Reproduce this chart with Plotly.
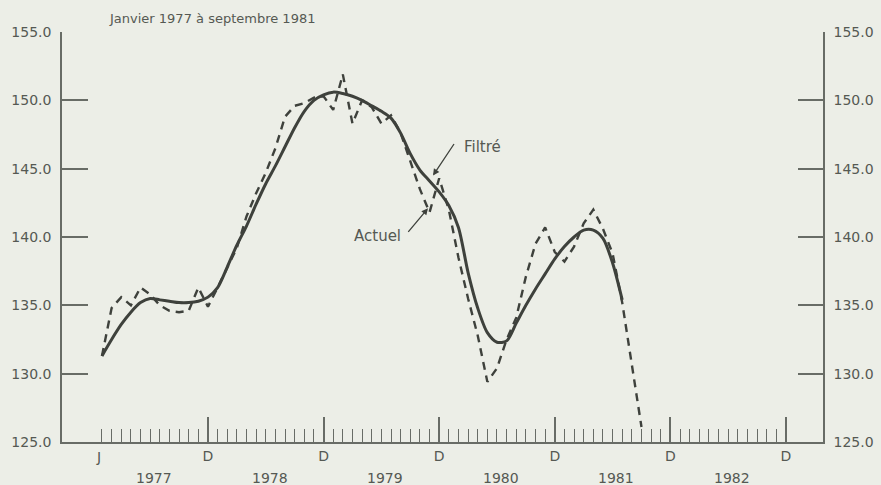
import plotly.graph_objects as go
import pandas as pd

# ---- data (monthly, starting January 1977) ----
start_month = "1977-01"
actuel = [
    131.3, 134.8, 135.6, 135.0, 136.3, 135.8, 135.0, 134.6, 134.5, 134.6, 136.3, 134.9,   # 1977
    136.3, 137.8, 139.2, 141.5, 143.2, 144.7, 146.5, 148.8, 149.6, 149.8, 150.2, 150.3,   # 1978
    149.3, 151.9, 148.3, 150.0, 149.5, 148.3, 148.9, 147.6, 145.5, 143.5, 141.8, 144.3,   # 1979
    142.0, 138.5, 135.5, 132.8, 129.4, 130.4, 132.5, 134.1, 137.1, 139.5, 140.7, 138.9,   # 1980
    138.2, 139.3, 141.0, 142.0, 140.6, 138.8, 135.2, 130.6, 126.1,                        # 1981 (jan-sep)
]
filtre = [
    131.3, 132.5, 133.6, 134.5, 135.2, 135.5, 135.4, 135.3, 135.2, 135.2, 135.3, 135.6,   # 1977
    136.3, 137.8, 139.4, 140.8, 142.4, 143.9, 145.2, 146.6, 148.0, 149.2, 150.0, 150.4,   # 1978
    150.6, 150.5, 150.3, 150.0, 149.6, 149.2, 148.7, 147.6, 146.1, 144.9, 144.1, 143.3,   # 1979
    142.3, 140.7, 137.4, 134.8, 133.0, 132.3, 132.4, 133.7, 135.0, 136.2, 137.3, 138.4,   # 1980
    139.3, 140.0, 140.5, 140.5, 139.9, 138.1, 135.4,                                      # 1981 (jan-jul)
]
y_ticks = [125, 130, 135, 140, 145, 150, 155]
dec_labels = ["D", "D", "D", "D", "D", "D"]
year_labels = ["1977", "1978", "1979", "1980", "1981", "1982"]
title_text = "Janvier 1977 à septembre 1981"

# month index from January 1977
periods = pd.period_range(start_month, periods=len(actuel), freq="M")
base = pd.Period(start_month, freq="M")
x_act = [(p - base).n for p in periods]
x_fil = x_act[:len(filtre)]

# ---- styles ----
BG = "#eceee7"
INK = "#3e413c"
AXIS = "#686c66"
TXT = "#555953"
FONT = "DejaVu Sans, Liberation Sans, Arial, sans-serif"

fig = go.Figure()
# "Actuel" drawn against the right-hand scale (identical range to the left one)
fig.add_trace(go.Scatter(
    x=x_act, y=actuel, mode="lines", name="Actuel", yaxis="y2",
    line=dict(color=INK, width=2.4, dash="8px,6px"),
    hoverinfo="skip", showlegend=False))
fig.add_trace(go.Scatter(
    x=x_fil, y=filtre, mode="lines", name="Filtré",
    line=dict(color=INK, width=3, shape="spline", smoothing=0.8),
    hoverinfo="skip", showlegend=False))

n_months = 72  # 1977..1982
dec_positions = [11 + 12 * k for k in range(6)]
year_centers = [5.4 + 12 * k for k in range(6)]

annotations = [
    dict(x=0.5, y=1, xref="x", yref="paper", text=title_text, showarrow=False,
         xanchor="left", yanchor="middle", yshift=14,
         font=dict(size=13, color=TXT, family=FONT)),
    dict(x=-0.4, y=0, xref="x", yref="paper", text="J", showarrow=False,
         xanchor="center", yanchor="middle", yshift=-15,
         font=dict(size=14, color=TXT, family=FONT)),
    # Filtré label + arrow
    dict(x=37.4, y=146.6, xref="x", yref="y", text="Filtré", showarrow=False,
         xanchor="left", yanchor="middle", font=dict(size=15, color=TXT, family=FONT)),
    dict(x=34.36, y=144.5, xref="x", yref="y", text="", showarrow=True,
         ax=22, ay=-33, arrowhead=2, arrowsize=1, arrowwidth=1.3, arrowcolor=INK),
    # Actuel label + arrow
    dict(x=31.2, y=140.1, xref="x", yref="y", text="Actuel", showarrow=False,
         xanchor="right", yanchor="middle", font=dict(size=15, color=TXT, family=FONT)),
    dict(x=33.84, y=142.1, xref="x", yref="y", text="", showarrow=True,
         ax=-21, ay=25, arrowhead=2, arrowsize=1, arrowwidth=1.3, arrowcolor=INK),
]
for xc, lab in zip(year_centers, year_labels):
    annotations.append(dict(x=xc, y=0, xref="x", yref="paper", text=lab, showarrow=False,
                            xanchor="center", yanchor="middle", yshift=-36,
                            font=dict(size=14, color=TXT, family=FONT)))

tickfont = dict(size=14, color=TXT, family=FONT)

fig.update_layout(
    width=881, height=485,
    margin=dict(l=62, r=58, t=32, b=43, autoexpand=False),
    paper_bgcolor=BG, plot_bgcolor=BG,
    font=dict(family=FONT, size=14, color=TXT),
    showlegend=False,
    xaxis=dict(
        range=[-4.15, 74.84], showgrid=False, zeroline=False, automargin=False,
        showline=True, linecolor=AXIS, linewidth=1.5,
        tickmode="array", tickvals=dec_positions, ticktext=dec_labels,
        ticks="inside", ticklen=25, tickwidth=1.5, tickcolor=AXIS,
        tickfont=tickfont,
        minor=dict(tickmode="array", tickvals=list(range(n_months)),
                   ticks="inside", ticklen=13, tickwidth=1.4, tickcolor=AXIS),
    ),
    yaxis=dict(
        range=[125, 155], showgrid=False, zeroline=False, automargin=False,
        showline=True, linecolor=AXIS, linewidth=1.5,
        tickmode="array", tickvals=y_ticks, tickformat=".1f",
        ticks="inside", ticklen=26, tickwidth=1.5, tickcolor=AXIS,
        ticklabelstandoff=6, tickfont=tickfont,
    ),
    yaxis2=dict(
        range=[125, 155], overlaying="y", side="right", showgrid=False, zeroline=False,
        automargin=False,
        showline=True, linecolor=AXIS, linewidth=1.5,
        tickmode="array", tickvals=y_ticks, tickformat=".1f",
        ticks="inside", ticklen=25, tickwidth=1.5, tickcolor=AXIS,
        ticklabelstandoff=6, tickfont=tickfont,
    ),
    annotations=annotations,
)

fig.write_html("out.html", config={"displayModeBar": False},
               post_script="document.body.style.margin='0';document.body.style.padding='0';")
